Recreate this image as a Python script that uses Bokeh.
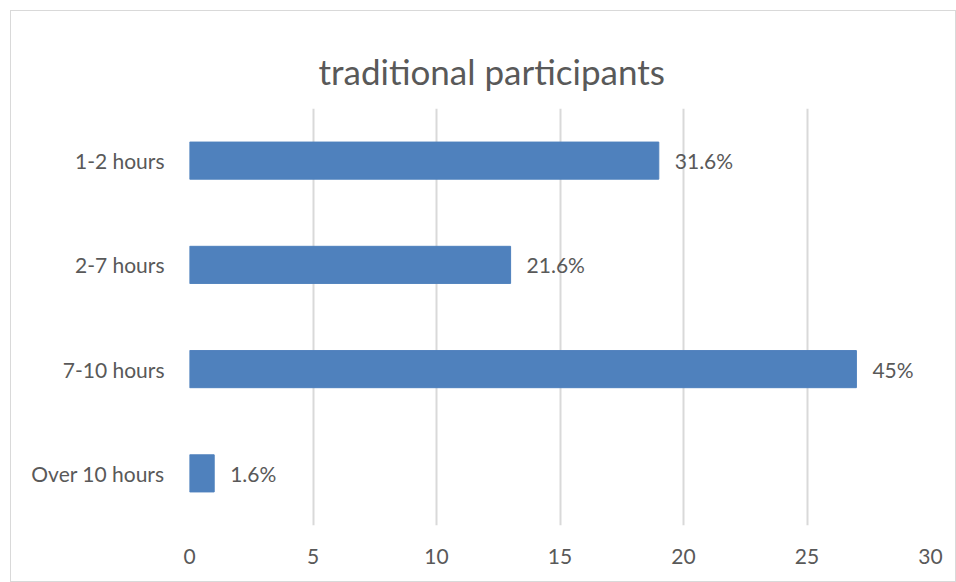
from bokeh.plotting import figure
from bokeh.models import ColumnDataSource, LabelSet, FactorRange
from bokeh.core.properties import value
from bokeh.embed import file_html
from bokeh.resources import INLINE

title_text = "traditional participants"
categories = ["1-2 hours", "2-7 hours", "7-10 hours", "Over 10 hours"]
values = [19, 13, 27, 1]
labels = ["31.6%", "21.6%", "45%", "1.6%"]
x_ticks = [0, 5, 10, 15, 20, 25, 30]

FONT = "Lato"
GRAY = "#595959"

source = ColumnDataSource(dict(cat=categories, val=values, lab=labels))

p = figure(
    width=946, height=572,
    y_range=FactorRange(*list(reversed(categories)), range_padding=0),
    x_range=(0, 30),
    output_backend="svg", toolbar_location=None,
    min_border_left=178, min_border_right=27, min_border_top=97, min_border_bottom=58,
    title=title_text,
)
p.margin = (10, 0, 0, 10)
p.styles = {"border": "1px solid #D9D9D9"}

p.hbar(y="cat", right="val", left=0, height=0.356, source=source,
       fill_color="#4F81BD", line_color="#4F81BD")

p.add_layout(LabelSet(x="val", y="cat", text="lab", source=source,
                      x_offset=16, text_baseline="middle", text_align="left",
                      text_font=value(FONT), text_font_size="21px", text_color=GRAY))

p.title.align = "left"
p.title.offset = 129
p.title.vertical_align = "middle"
p.title.standoff = 31
p.title.text_font = FONT
p.title.text_font_size = "35px"
p.title.text_font_style = "normal"
p.title.text_color = GRAY

p.xaxis.ticker = x_ticks
p.xaxis.axis_line_color = None
p.xaxis.major_tick_line_color = None
p.xaxis.minor_tick_line_color = None
p.xaxis.major_label_standoff = 17
p.xaxis.major_label_text_font = FONT
p.xaxis.major_label_text_font_size = "21px"
p.xaxis.major_label_text_color = GRAY

p.yaxis.axis_line_color = None
p.yaxis.major_tick_line_color = None
p.yaxis.major_label_standoff = 19
p.yaxis.major_label_text_font = FONT
p.yaxis.major_label_text_font_size = "21px"
p.yaxis.major_label_text_color = GRAY

p.xgrid.grid_line_color = "#D9D9D9"
p.xgrid.grid_line_width = 2
p.ygrid.grid_line_color = None
p.outline_line_color = None

open("out.html", "w").write(file_html(p, INLINE))
